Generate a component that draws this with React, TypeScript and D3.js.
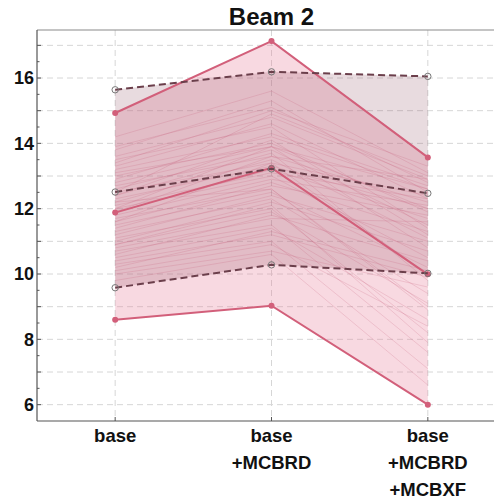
import React from "react";
import * as d3 from "d3";

const categories = ["base", "base\n+MCBRD", "base\n+MCBRD\n+MCBXF"];
const maxLine = [14.93, 17.13, 13.57];
const meanLine = [11.88, 13.25, 9.99];
const minLine = [8.6, 9.03, 6.0];
const upperDashed = [15.64, 16.19, 16.05];
const midDashed = [12.51, 13.22, 12.47];
const lowerDashed = [9.58, 10.28, 10.02];
const seeds: number[][] = [
  [14.2, 15.6, 13.1], [13.9, 15.1, 12.8], [13.6, 14.8, 12.9], [13.5, 14.5, 11.4],
  [13.3, 14.6, 12.3], [13.2, 14.2, 12.6], [13.0, 14.0, 11.9], [12.9, 14.3, 12.7],
  [12.8, 13.9, 10.8], [12.7, 13.6, 12.2], [12.6, 13.8, 11.5], [12.5, 13.4, 12.4],
  [12.4, 13.7, 9.8], [12.3, 13.3, 12.0], [12.2, 13.5, 11.1], [12.1, 13.1, 12.3],
  [12.0, 13.0, 10.5], [11.9, 13.2, 11.7], [11.8, 12.9, 12.1], [11.7, 12.6, 8.9],
  [11.6, 12.8, 11.3], [11.5, 12.5, 10.2], [11.4, 12.7, 11.8], [11.3, 12.3, 9.4],
  [11.2, 12.4, 11.0], [11.1, 12.0, 8.2], [11.0, 12.2, 10.7], [10.9, 11.9, 9.1],
  [10.8, 11.7, 11.6], [10.7, 11.5, 7.6], [10.6, 11.8, 10.4], [10.5, 11.4, 8.6],
  [10.4, 11.2, 9.9], [10.3, 11.0, 7.1], [10.2, 11.3, 10.1], [10.1, 10.9, 8.4],
  [10.0, 10.7, 9.6], [9.8, 10.6, 6.6], [12.5, 14.9, 13.0], [13.8, 15.3, 12.5],
  [11.9, 13.6, 12.9], [12.2, 12.6, 9.0], [10.9, 12.1, 7.9], [13.1, 13.9, 12.0],
  [12.4, 14.1, 11.2], [11.6, 13.4, 10.0], [13.4, 15.0, 13.3], [12.0, 13.9, 12.6],
];
const yTicks = [6, 8, 10, 12, 14, 16];
const gridY = [6, 7, 8, 9, 10, 11, 12, 13, 14, 15, 16, 17];
const title = "Beam 2";

const W = 494, H = 500;
const left = 37, top = 30, bottom = 421, rightFull = 506;

export default function App() {
  const x = d3.scaleLinear().domain([0.5, 3.5]).range([left, rightFull]);
  const y = d3.scaleLinear().domain([5.5, 17.47]).range([bottom, top]);
  const idx = [1, 2, 3];
  const line = d3.line<number>().x((_, i) => x(idx[i])).y((v) => y(v));
  const band = (lo: number[], hi: number[]) =>
    d3.area<number>().x((_, i) => x(idx[i])).y0((_, i) => y(lo[i])).y1((v) => y(v))(hi) || "";
  const minor = d3.range(6, 17.5, 0.5);
  const font = "'Liberation Sans', Arial, sans-serif";
  const red = "#d25f7a";
  const dark = "#6b3f4b";

  return (
    <svg width={W} height={H} style={{ position: "absolute", left: 0, top: 0, background: "#fff" }}>
      <defs>
        <clipPath id="plot">
          <rect x={left} y={top} width={W - left} height={bottom - top} />
        </clipPath>
      </defs>
      <g clipPath="url(#plot)">
        {gridY.map((v) => (
          <line key={"gy" + v} x1={left} x2={W} y1={y(v)} y2={y(v)} stroke="#d6d6d6" strokeWidth={1} strokeDasharray="6,4" />
        ))}
        {idx.map((i) => (
          <line key={"gx" + i} x1={x(i)} x2={x(i)} y1={top} y2={bottom} stroke="#d6d6d6" strokeWidth={1} strokeDasharray="6,4" />
        ))}
        <path d={band(minLine, maxLine)} fill="rgb(232,130,155)" fillOpacity={0.3} />
        <path d={band(lowerDashed, upperDashed)} fill="rgb(135,65,85)" fillOpacity={0.19} />
        {seeds.map((s, k) => (
          <path key={"s" + k} d={line(s) || ""} fill="none" stroke="rgb(195,90,118)" strokeOpacity={0.3} strokeWidth={0.7} />
        ))}
        {[maxLine, meanLine, minLine].map((s, k) => (
          <g key={"r" + k}>
            <path d={line(s) || ""} fill="none" stroke={red} strokeWidth={2} />
            {s.map((v, i) => (
              <circle key={i} cx={x(idx[i])} cy={y(v)} r={3} fill={red} />
            ))}
          </g>
        ))}
        {[upperDashed, midDashed, lowerDashed].map((s, k) => (
          <g key={"d" + k}>
            <path d={line(s) || ""} fill="none" stroke={dark} strokeWidth={2} strokeDasharray="7,4" />
            {s.map((v, i) => (
              <circle key={i} cx={x(idx[i])} cy={y(v)} r={3.2} fill="none" stroke="#777" strokeWidth={1} />
            ))}
          </g>
        ))}
      </g>
      {/* frame */}
      <line x1={left} x2={W} y1={top} y2={top} stroke="#8a8a8a" strokeWidth={1.2} />
      <line x1={left} x2={W} y1={bottom} y2={bottom} stroke="#555" strokeWidth={1.2} />
      <line x1={left} x2={left} y1={top} y2={bottom} stroke="#555" strokeWidth={1.2} />
      {minor.map((v) => (
        <line key={"t" + v} x1={left} x2={left + (Number.isInteger(v) ? 4 : 2.5)} y1={y(v)} y2={y(v)} stroke="#555" strokeWidth={1} />
      ))}
      {idx.map((i) => (
        <line key={"bt" + i} x1={x(i)} x2={x(i)} y1={bottom} y2={bottom - 4} stroke="#555" strokeWidth={1} />
      ))}
      {yTicks.map((v) => (
        <text key={"yl" + v} x={left - 3} y={y(v)} dy="0.36em" textAnchor="end" fontFamily={font} fontWeight="bold" fontSize={18} fill="#111">
          {v}
        </text>
      ))}
      {categories.map((c, i) => (
        <text key={"xl" + i} x={x(idx[i])} y={bottom + 21} textAnchor="middle" fontFamily={font} fontWeight="bold" fontSize={18.5} fill="#111">
          {c.split("\n").map((t, j) => (
            <tspan key={j} x={x(idx[i])} dy={j === 0 ? 0 : 27}>
              {t}
            </tspan>
          ))}
        </text>
      ))}
      <text x={(left + rightFull) / 2} y={25} textAnchor="middle" fontFamily={font} fontWeight="bold" fontSize={24} fill="#111">
        {title}
      </text>
    </svg>
  );
}
